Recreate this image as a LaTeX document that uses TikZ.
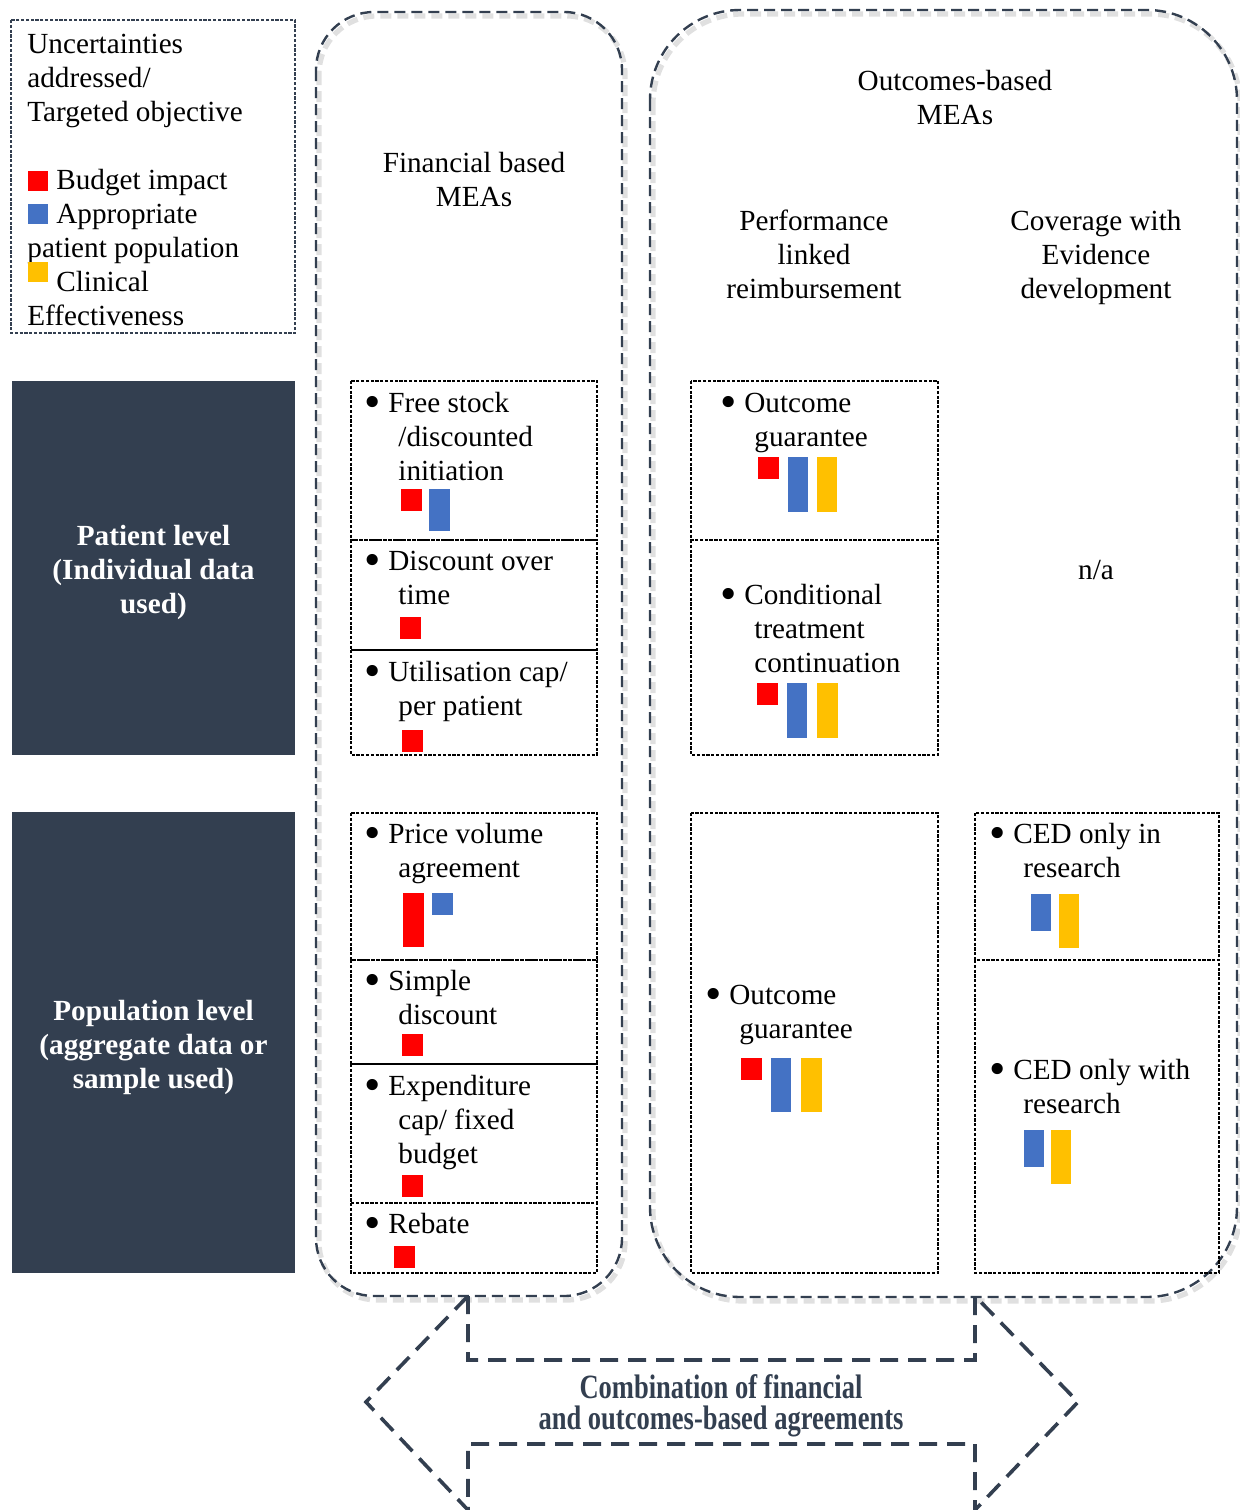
\documentclass[tikz,border=0pt]{standalone}
\usepackage{fontspec}
\usepackage{graphicx}
\setmainfont{Liberation Serif}
\newfontfamily\narrowserif[FakeStretch=0.78]{Liberation Serif}

\definecolor{navy}{RGB}{51,63,80}
\definecolor{cred}{RGB}{255,0,0}
\definecolor{cblue}{RGB}{68,114,196}
\definecolor{cyellow}{RGB}{255,192,0}

\newcommand\bodyfont{\fontsize{14.6}{17}\selectfont}
\newcommand\itembul{\makebox[11pt][l]{\hspace*{-0.8pt}\raisebox{-2.6pt}{\scalebox{1.6}{\textbullet}}}}
\newcommand\itemcont{\hspace*{16pt}}

\tikzset{
  txt/.style={inner sep=0pt, font=\bodyfont, align=left, anchor=north west},
  ctxt/.style={inner sep=0pt, font=\bodyfont, align=center, anchor=north},
  cellbox/.style={draw=black, line width=0.65pt, dash pattern=on 1.6pt off 0.8pt},
  legendbox/.style={draw=navy, line width=0.9pt, dash pattern=on 1.6pt off 0.8pt},
  darkbox/.style={fill=navy, inner sep=0pt},
  darktext/.style={text=white, font=\bodyfont\bfseries, align=center, inner sep=0pt},
  groupframe/.style={draw=navy, line width=1.2pt, dash pattern=on 5.5pt off 3pt},
  groupshadow/.style={draw=black!12, line width=2.6pt, dash pattern=on 5.5pt off 3pt},
  arrowframe/.style={draw=navy, line width=1.8pt, dash pattern=on 9pt off 5pt},
}

\begin{document}
\begin{tikzpicture}[x=0.5pt,y=-0.5pt]
\useasboundingbox (0,0) rectangle (1239,1510);

% legend
\draw[legendbox] (11,20) rectangle (295,333);
\node[txt] (legend) at (27,29) {\strut Uncertainties\\addressed/\\Targeted objective\\[17pt]\hspace*{14.5pt}Budget impact\\\hspace*{14.5pt}Appropriate\\patient population\\\hspace*{14.5pt}Clinical\\Effectiveness};
\fill[cred] (28,171) rectangle (48,191);
\fill[cblue] (28,204) rectangle (48,224);
\fill[cyellow] (28,262) rectangle (48,282);

% row headers
\node[darkbox, minimum width=141.5pt, minimum height=187pt] (patient) at (153.5,568) {};
\node[darktext] (patienttext) at (153.5,572) {Patient level\\(Individual data\\used)};
\node[darkbox, minimum width=141.5pt, minimum height=230.5pt] (population) at (153.5,1042.5) {};
\node[darktext] (populationtext) at (153.5,1047.5) {Population level\\(aggregate data or\\sample used)};

% group frames with soft shadows
\draw[groupshadow, rounded corners=29pt] (319,16) rectangle (625,1300);
\draw[groupshadow, rounded corners=45pt] (653,14) rectangle (1240,1301);
\draw[groupframe, rounded corners=29pt] (316,12) rectangle (622,1296);
\draw[groupframe, rounded corners=45pt] (650,10) rectangle (1237,1297);

% column titles
\node[ctxt] (fin) at (474,148) {\strut Financial based\\MEAs};
\node[ctxt] (out) at (955,66) {\strut Outcomes-based\\MEAs};
\node[ctxt] (plr) at (814,206) {\strut Performance\\linked\\reimbursement};
\node[ctxt] (ced) at (1096,206) {\strut Coverage with\\Evidence\\development};
\node[inner sep=0pt, font=\bodyfont] (na) at (1096,570) {n/a};

% financial cells
\draw[cellbox] (351,381) rectangle (597,540);
\draw[cellbox] (351,540) rectangle (597,650);
\draw[cellbox] (351,650) rectangle (597,755);
\draw[cellbox] (351,813) rectangle (597,960);
\draw[cellbox] (351,960) rectangle (597,1064);
\draw[cellbox] (351,1064) rectangle (597,1203);
\draw[cellbox] (351,1203) rectangle (597,1273);

% performance cells
\draw[cellbox] (691,381) rectangle (938,540);
\draw[cellbox] (691,540) rectangle (938,755);
\draw[cellbox] (691,813) rectangle (938,1273);

% CED cells
\draw[cellbox] (975,813) rectangle (1219,960);
\draw[cellbox] (975,960) rectangle (1219,1273);

% financial items
\node[txt] (freestock) at (366,388) {\strut\itembul Free stock\\\itemcont/discounted\\\itemcont initiation};
\fill[cred] (401,489) rectangle (422,511);
\fill[cblue] (429,489) rectangle (450,531);

\node[txt] (disctime) at (366,546) {\strut\itembul Discount over\\\itemcont time};
\fill[cred] (400,617) rectangle (421,639);

\node[txt] (utilcap) at (366,657) {\strut\itembul Utilisation cap/\\\itemcont per patient};
\fill[cred] (402,730) rectangle (423,752);

\node[txt] (pricevol) at (366,819) {\strut\itembul Price volume\\\itemcont agreement};
\fill[cred] (403,893) rectangle (424,947);
\fill[cblue] (432,893) rectangle (453,915);

\node[txt] (simple) at (366,966) {\strut\itembul Simple\\\itemcont discount};
\fill[cred] (402,1034) rectangle (423,1056);

\node[txt] (expcap) at (366,1071) {\strut\itembul Expenditure\\\itemcont cap/ fixed\\\itemcont budget};
\fill[cred] (402,1175) rectangle (423,1197);

\node[txt] (rebate) at (366,1209) {\strut\itembul Rebate};
\fill[cred] (394,1246) rectangle (415,1268);

% performance items
\node[txt] (outg1) at (722,388) {\strut\itembul Outcome\\\itemcont guarantee};
\fill[cred] (758,457) rectangle (779,479);
\fill[cblue] (788,457) rectangle (808,512);
\fill[cyellow] (817,457) rectangle (837,512);

\node[txt] (condtr) at (722,580) {\strut\itembul Conditional\\\itemcont treatment\\\itemcont continuation};
\fill[cred] (757,683) rectangle (778,705);
\fill[cblue] (787,683) rectangle (807,738);
\fill[cyellow] (817,683) rectangle (838,738);

\node[txt] (outg2) at (707,980) {\strut\itembul Outcome\\\itemcont guarantee};
\fill[cred] (741,1058) rectangle (762,1080);
\fill[cblue] (771,1058) rectangle (791,1112);
\fill[cyellow] (801,1058) rectangle (822,1112);

% CED items
\node[txt] (cedin) at (991,819) {\strut\itembul CED only in\\\itemcont research};
\fill[cblue] (1031,894) rectangle (1051,931);
\fill[cyellow] (1059,894) rectangle (1079,948);

\node[txt] (cedwith) at (991,1055) {\strut\itembul CED only with\\\itemcont research};
\fill[cblue] (1024,1130) rectangle (1044,1167);
\fill[cyellow] (1051,1130) rectangle (1071,1184);

% double-headed combination arrow
\draw[arrowframe] (468,1296) -- (468,1360) -- (975,1360) -- (975,1296)
  -- (1078,1402) -- (975,1510) -- (975,1444) -- (468,1444) -- (468,1510)
  -- (366,1402) -- cycle;
\node[inner sep=0pt, align=center, text=navy, font=\narrowserif\bfseries\fontsize{17}{15.5}\selectfont] (combo) at (721,1406) {Combination of financial\\and outcomes-based agreements};

\end{tikzpicture}
\end{document}
